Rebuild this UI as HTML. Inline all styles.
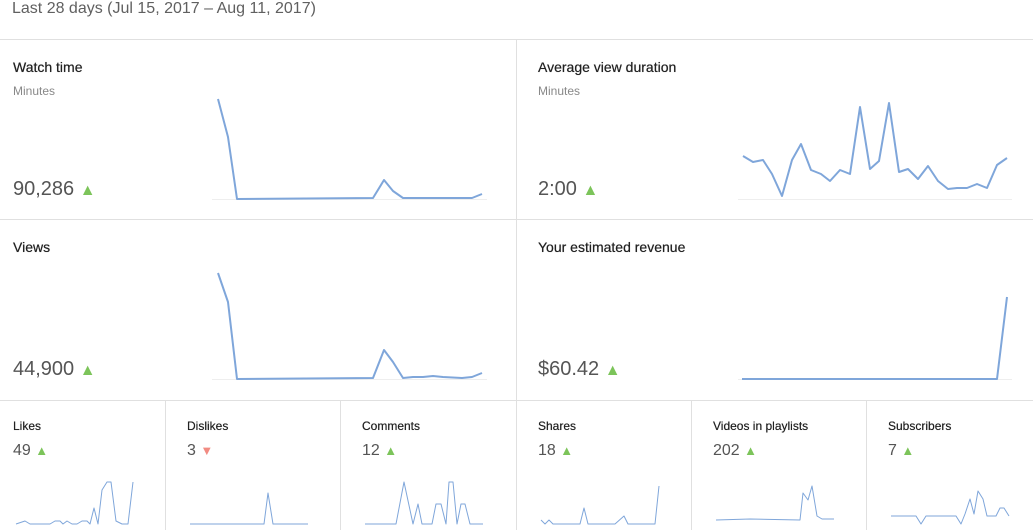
<!DOCTYPE html><html><head><meta charset="utf-8"><style>
body{margin:0;width:1033px;height:530px;overflow:hidden;background:#fff;font-family:"Liberation Sans",Arial,sans-serif;position:relative}
.t{position:absolute;white-space:nowrap}
.h{font-size:16px;color:#606060}
.ct{font-size:14px;color:#222;text-shadow:0 0 0.5px #222}
.sub{font-size:12px;color:#888}
.big{font-size:20px;color:#555}
.st{font-size:12px;color:#222;text-shadow:0 0 0.4px #222}
.sn{font-size:16px;color:#555}
.up{color:#7cc45a;font-size:16px}
.dn{color:#f28b82;font-size:13px}
svg{position:absolute;left:0;top:0}
</style></head><body>
<svg width="1033" height="530">
<g stroke="#e0e0e0" stroke-width="1" fill="none">
<line x1="0" y1="39.5" x2="1033" y2="39.5"/>
<line x1="0" y1="219.5" x2="1033" y2="219.5"/>
<line x1="0" y1="400.5" x2="1033" y2="400.5"/>
<line x1="516.5" y1="40" x2="516.5" y2="530"/>
<line x1="165.5" y1="400" x2="165.5" y2="530"/>
<line x1="340.5" y1="400" x2="340.5" y2="530"/>
<line x1="691.5" y1="400" x2="691.5" y2="530"/>
<line x1="866.5" y1="400" x2="866.5" y2="530"/>
</g>
<g stroke="#eeeeee" stroke-width="1">
<line x1="212" y1="199.5" x2="487" y2="199.5"/>
<line x1="738" y1="199.5" x2="1012" y2="199.5"/>
<line x1="212" y1="379.5" x2="487" y2="379.5"/>
<line x1="738" y1="379.5" x2="1012" y2="379.5"/>
</g>
<g stroke="#7fa6da" stroke-width="2" fill="none" stroke-linejoin="round">
<polyline points="218,99 228,137 237,199 373,198 384,180 393,191 403,198 472,198 482,194"/>
<polyline points="743,156 753,162 763,160 772,174 782,196 792,160 801,144 811,170 821,174 830,181 840,170 850,174 860,107 870,169 879,161 889,103 899,172 908,169 918,179 928,166 938,181 948,189 957,188 967,188 977,184 987,188 997,165 1007,158"/>
<polyline points="218,273 228,302 237,379 373,378 384,350 393,362 403,378 413,377 423,377 433,376 443,377 462,378 472,377 482,373"/>
<polyline points="742,379 997,379 1007,297"/>
</g>
<g stroke="#7fa6da" stroke-width="1" fill="none" stroke-linejoin="round">
<polyline points="16,524 25,521 30,524 50,524 55,521 60,521 63,524 67,521 72,524 77,524 82,521 87,521 90,524 94,508 98,524 102,490 107,482 111,482 116,521 122,524 128,524 133,482"/>
<polyline points="190,524 264,524 268,493 273,524 308,524"/>
<polyline points="365,524 396,524 404,482 413,524 418,504 422,524 432,524 436,504 441,504 446,524 449,482 453,482 457,524 461,504 465,504 470,524 483,524"/>
<polyline points="541,520 545,524 549,520 553,524 580,524 584,508 588,524 615,524 624,516 628,524 655,524 659,486"/>
<polyline points="716,520 750,519 800,520 803,493 808,500 812,486 817,516 822,519 834,519"/>
<polyline points="891,516 916,516 921,524 926,516 956,516 961,524 965,514 970,499 974,514 978,491 983,499 987,516 996,516 1000,508 1004,508 1009,516"/>
</g>
</svg>
<div class="t h" style="left:12px;top:0px">Last 28 days (Jul 15, 2017 – Aug 11, 2017)</div>
<div class="t ct" style="left:13px;top:59px">Watch time</div>
<div class="t sub" style="left:13px;top:84px">Minutes</div>
<div class="t big" style="left:13px;top:178px">90,286 <span class="up">▲</span></div>
<div class="t ct" style="left:538px;top:59px">Average view duration</div>
<div class="t sub" style="left:538px;top:84px">Minutes</div>
<div class="t big" style="left:538px;top:178px">2:00 <span class="up">▲</span></div>
<div class="t ct" style="left:13px;top:239px">Views</div>
<div class="t big" style="left:13px;top:358px">44,900 <span class="up">▲</span></div>
<div class="t ct" style="left:538px;top:239px">Your estimated revenue</div>
<div class="t big" style="left:538px;top:358px">$60.42 <span class="up">▲</span></div>
<div class="t st" style="left:13px;top:419px">Likes</div>
<div class="t sn" style="left:13px;top:442px">49 <span class="up" style="font-size:13px">▲</span></div>
<div class="t st" style="left:187px;top:419px">Dislikes</div>
<div class="t sn" style="left:187px;top:442px">3 <span class="dn" style="font-size:13px">▼</span></div>
<div class="t st" style="left:362px;top:419px">Comments</div>
<div class="t sn" style="left:362px;top:442px">12 <span class="up" style="font-size:13px">▲</span></div>
<div class="t st" style="left:538px;top:419px">Shares</div>
<div class="t sn" style="left:538px;top:442px">18 <span class="up" style="font-size:13px">▲</span></div>
<div class="t st" style="left:713px;top:419px">Videos in playlists</div>
<div class="t sn" style="left:713px;top:442px">202 <span class="up" style="font-size:13px">▲</span></div>
<div class="t st" style="left:888px;top:419px">Subscribers</div>
<div class="t sn" style="left:888px;top:442px">7 <span class="up" style="font-size:13px">▲</span></div>
</body></html>
